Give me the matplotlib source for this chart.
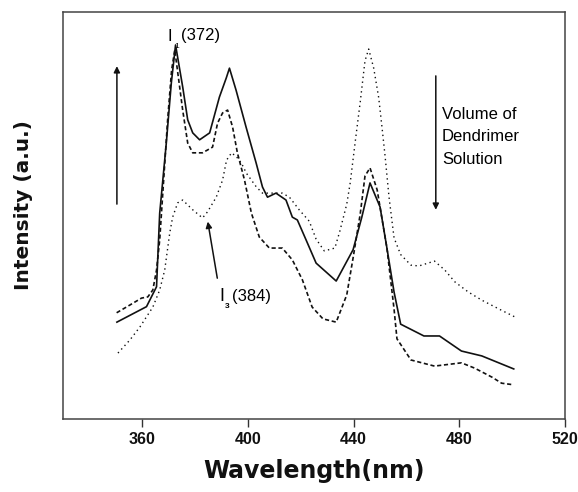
import matplotlib
matplotlib.use('Agg')
import matplotlib.pyplot as plt

# solid curve (first spectrum)
wl_solid = [350.4, 361.6, 365.4, 366.6, 369.1, 371.0, 372.6, 375.3, 377.2, 379.1,
            381.7, 385.5, 389.2, 391.8, 393.0, 395.5, 399.3, 403.1, 405.5, 407.4,
            410.6, 414.4, 416.8, 418.7, 422.0, 425.8, 433.4, 439.8, 443.1, 446.2,
            450.0, 452.6, 455.3, 457.8, 466.6, 472.5, 480.8, 488.5, 500.6]
int_solid = [23.8, 27.6, 32.5, 50.6, 67.8, 82.6, 91.9, 81.6, 73.5, 70.3,
             68.6, 70.3, 79.1, 83.8, 86.2, 80.8, 71.7, 62.9, 57.0, 54.5,
             55.5, 53.8, 49.6, 48.9, 44.0, 38.3, 33.9, 41.6, 49.6, 58.0,
             52.1, 42.0, 31.2, 23.3, 20.4, 20.4, 16.7, 15.5, 12.3]

# dashed curve
wl_dash = [350.3, 355.3, 359.7, 362.1, 364.0, 365.4, 366.6, 368.1, 369.6, 371.1,
           372.3, 375.3, 377.2, 379.1, 382.8, 386.6, 388.5, 390.4, 392.3, 394.2,
           396.0, 398.7, 401.3, 404.3, 408.1, 413.0, 416.8, 420.6, 424.3, 428.4,
           433.4, 437.4, 439.8, 442.5, 444.3, 446.2, 448.9, 452.6, 455.3, 456.4,
           461.7, 470.6, 480.8, 485.8, 492.3, 496.0, 500.6]
int_dash = [26.1, 28.0, 29.7, 30.0, 31.7, 36.6, 44.0, 58.7, 73.5, 85.7,
            90.7, 75.9, 67.8, 65.4, 65.4, 66.8, 72.7, 75.2, 75.9, 71.7,
            65.4, 58.7, 50.6, 44.7, 42.0, 42.0, 39.1, 34.2, 27.5, 24.6,
            23.8, 30.5, 39.6, 50.4, 59.7, 61.7, 56.3, 42.0, 27.0, 19.7,
            14.5, 13.0, 13.8, 12.5, 10.3, 8.8, 8.4]

# dotted curve
wl_dot = [350.8, 355.3, 359.1, 364.0, 366.6, 368.5, 370.4, 371.5, 373.4, 375.3,
          379.1, 382.8, 384.7, 388.0, 390.4, 391.9, 393.8, 395.7, 397.5, 399.4,
          401.3, 403.2, 405.5, 409.2, 413.0, 415.7, 419.4, 423.2, 425.8, 428.9,
          432.9, 434.8, 437.4, 438.7, 440.6, 442.5, 444.3, 445.7, 447.6, 449.5,
          450.8, 451.9, 453.4, 455.3, 457.8, 461.7, 464.7, 470.6, 474.5, 478.3,
          483.4, 488.5, 496.0, 501.9]
int_dot = [16.2, 19.4, 22.6, 27.5, 31.7, 36.6, 45.7, 49.6, 53.1, 53.8,
           51.4, 49.4, 50.9, 54.5, 58.7, 63.6, 65.4, 64.4, 62.9, 60.4,
           58.7, 57.0, 55.5, 55.5, 55.5, 54.5, 51.4, 48.6, 44.2, 41.3,
           42.0, 46.2, 52.8, 58.0, 68.1, 77.9, 88.0, 90.9, 86.2, 78.9,
           71.3, 64.6, 54.5, 44.5, 40.4, 37.8, 37.6, 38.8, 36.6, 33.7,
           31.2, 29.2, 26.7, 24.8]

xticks = [360, 400, 440, 480, 520]
note_font = 'Liberation Sans'
tick_font = ['Liberation Sans Narrow', 'Liberation Sans']

fig = plt.figure(figsize=(5.78, 4.92), dpi=100)
ax = fig.add_axes([63 / 578, 1 - 419 / 492, (565 - 63) / 578, (419 - 12) / 492])

ax.plot(wl_solid, int_solid, color='#111111', lw=1.2)
ax.plot(wl_dash, int_dash, color='#111111', lw=1.2, linestyle=(0, (2.5, 1.6)))
ax.plot(wl_dot, int_dot, color='#111111', lw=1.0, linestyle=(0, (1, 2.5)))

ax.set_xlim(330, 520)
ax.set_ylim(0, 100)
ax.set_xticks(xticks)
ax.set_yticks([])
ax.tick_params(axis='x', direction='out', length=6, width=1, pad=3, color='#333333')
for lab in ax.get_xticklabels():
    lab.set_fontfamily(tick_font)
    lab.set_fontweight('bold')
    lab.set_fontsize(11.5)
    lab.set_color('#111111')
for sp in ax.spines.values():
    sp.set_color('#444444')
    sp.set_linewidth(1.1)

# arrows
arrow = dict(arrowstyle='-|>', color='#111111', lw=1.1, mutation_scale=9,
             shrinkA=0, shrinkB=0)
ax.annotate('', xy=(350.4, 86.7), xytext=(350.4, 52.8), arrowprops=arrow)
ax.annotate('', xy=(471.1, 51.4), xytext=(471.1, 84.3), arrowprops=arrow)
ax.annotate('', xy=(384.8, 48.5), xytext=(388.4, 34.6), arrowprops=arrow)

# annotations
ax.text(473.4, 73.7, 'Volume of', family=note_font, fontsize=12, va='baseline')
ax.text(473.4, 68.3, 'Dendrimer', family=note_font, fontsize=12, va='baseline')
ax.text(473.4, 62.7, 'Solution', family=note_font, fontsize=12, va='baseline')

ax.text(369.6, 94.1, 'I', family=note_font, fontsize=12, va='center')
ax.text(372.0, 91.6, '1', family=note_font, fontsize=6, va='center')
ax.text(374.5, 94.3, '(372)', family=note_font, fontsize=12, va='center')

ax.text(389.2, 30.2, 'I', family=note_font, fontsize=13, va='center')
ax.text(391.1, 27.6, '3', family=note_font, fontsize=6, fontweight='bold', va='center')
ax.text(393.8, 30.2, '(384)', family=note_font, fontsize=12, va='center')

fig.text(24 / 578, 1 - 205 / 492, 'Intensity (a.u.)', rotation=90, ha='center',
         va='center', fontsize=14.5, fontweight='bold', color='#111111')
fig.text(314 / 578, 1 - 471 / 492, 'Wavelength(nm)', ha='center', va='center',
         fontsize=17, fontweight='bold', color='#111111')

fig.savefig('out.png', dpi=100)
